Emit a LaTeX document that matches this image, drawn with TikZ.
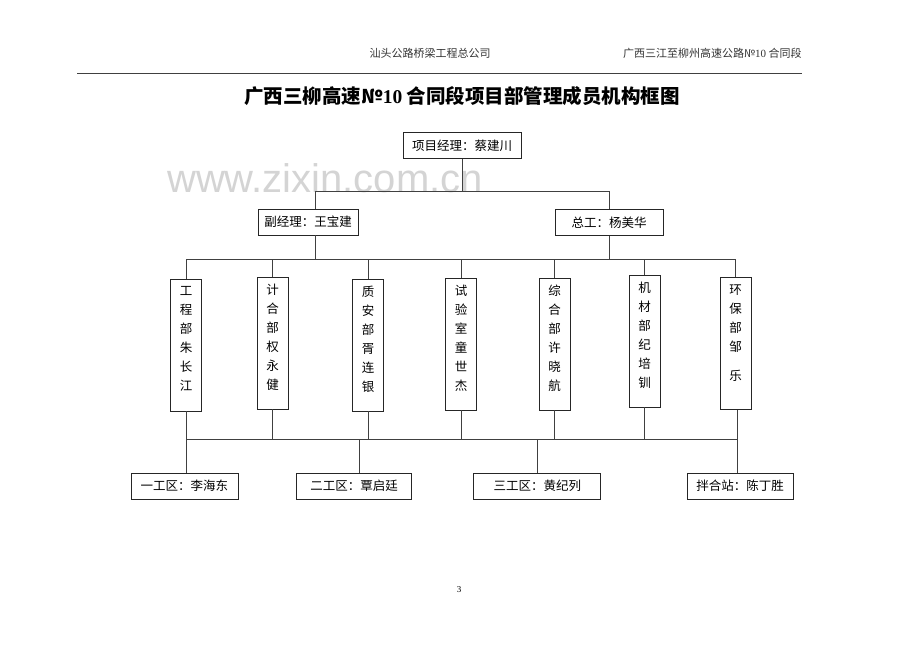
\documentclass[tikz,border=0pt]{standalone}
\usepackage{fontspec}
\setmainfont{Noto Sans CJK SC}
\newfontfamily\latinserif{Liberation Serif}
\newfontfamily\wmfont{Liberation Sans}
\newcommand{\vstack}[1]{\parbox[c][118pt][t]{16pt}{\centering #1}}

\begin{document}
\begin{tikzpicture}[
        x=1pt, y=-1pt,
        line width=0.7pt,
        box/.style={draw=black!85, minimum height=26pt, inner sep=0pt, font=\fontsize{12.5pt}{15pt}\selectfont},
        dept/.style={draw=black!85, minimum width=31pt, minimum height=132pt, inner sep=0pt, font=\fontsize{12.5pt}{19pt}\selectfont},
        link/.style={draw=black!75},
        header/.style={font=\fontsize{11pt}{13pt}\selectfont, text=black!80, inner sep=0pt}
    ]
    \useasboundingbox (0,0) rectangle (920,651);

    % --- Watermark ---
    \node[font=\wmfont\fontsize{40pt}{40pt}\selectfont, text=black!17] (wm) at (325,178) {www.zixin.com.cn};

    % --- Page header ---
    \node[header] (hdl) at (430,53) {汕头公路桥梁工程总公司};
    \node[header, anchor=east] (hdr) at (802,53) {广西三江至柳州高速公路№{\latinserif 10} 合同段};
    \coordinate (rl) at (77,73.3);
    \coordinate (rr) at (802,73.3);
    \draw[black!75] (rl) -- (rr);

    % --- Title ---
    \node[font=\bfseries\fontsize{19.5pt}{22pt}\selectfont] (title) at (462,96) {广西三柳高速№{\latinserif\bfseries 10} 合同段项目部管理成员机构框图};

    % --- Managers ---
    \node[box, minimum width=118pt] (pm) at (462,145.5) {项目经理：蔡建川};
    \node[box, minimum width=100pt] (dm) at (308,222) {副经理：王宝建};
    \node[box, minimum width=108pt] (ce) at (609,222.5) {总工：杨美华};

    % --- Departments ---
    \node[dept] (d1) at (186.2,345) {\vstack{工\\程\\部\\朱\\长\\江}};
    \node[dept] (d2) at (272.5,343) {\vstack{计\\合\\部\\权\\永\\健}};
    \node[dept] (d3) at (368,345) {\vstack{质\\安\\部\\胥\\连\\银}};
    \node[dept] (d4) at (461,344) {\vstack{试\\验\\室\\童\\世\\杰}};
    \node[dept] (d5) at (554.5,344) {\vstack{综\\合\\部\\许\\晓\\航}};
    \node[dept] (d6) at (644.5,341) {\vstack{机\\材\\部\\纪\\培\\钏}};
    \node[dept] (d7) at (735.5,343.5) {\vstack{环\\保\\部\\邹\\[10pt]乐}};

    % --- Work sections ---
    \node[box, minimum width=107pt] (b1) at (184.4,486) {一工区：李海东};
    \node[box, minimum width=115pt] (b2) at (354.2,486) {二工区：覃启廷};
    \node[box, minimum width=127pt] (b3) at (537.3,486) {三工区：黄纪列};
    \node[box, minimum width=106pt] (b4) at (740,486) {拌合站：陈丁胜};

    % --- Bus lines ---
    \coordinate (j0) at (462,191.5);
    \coordinate (up) at (0,259.3);
    \coordinate (lo) at (0,439.3);
    \coordinate (le) at (737,439.3);

    % --- Connectors ---
    \draw[link] (pm) -- (j0);
    \draw[link] ([xshift=7pt]dm.north) |- (j0) -| (ce.north);
    \draw[link] ([xshift=7pt]dm.south) -- ([xshift=7pt]dm.south |- up);
    \draw[link] (ce.south) -- (ce.south |- up);
    \draw[link] (d1.north |- up) -- (d7.north |- up);
    \foreach \d in {d1,d2,d3,d4,d5,d6} {
        \draw[link] (\d.north) -- (\d.north |- up);
        \draw[link] (\d.south) -- (\d.south |- lo);
    }
    \draw[link] (d7.north) -- (d7.north |- up);
    \draw[link] (d7.south -| le) -- (le);
    \draw[link] (d1.south |- lo) -- (le);
    \draw[link] (b1.north -| d1.south) -- (d1.south |- lo);
    \draw[link] ([xshift=5pt]b2.north) -- ([xshift=5pt]b2.north |- lo);
    \draw[link] (b3.north) -- (b3.north |- lo);
    \draw[link] (b4.north -| le) -- (le);

    % --- Page number ---
    \node[font=\latinserif\fontsize{9pt}{10pt}\selectfont] (pg) at (459,590) {3};

\end{tikzpicture}
\end{document}
